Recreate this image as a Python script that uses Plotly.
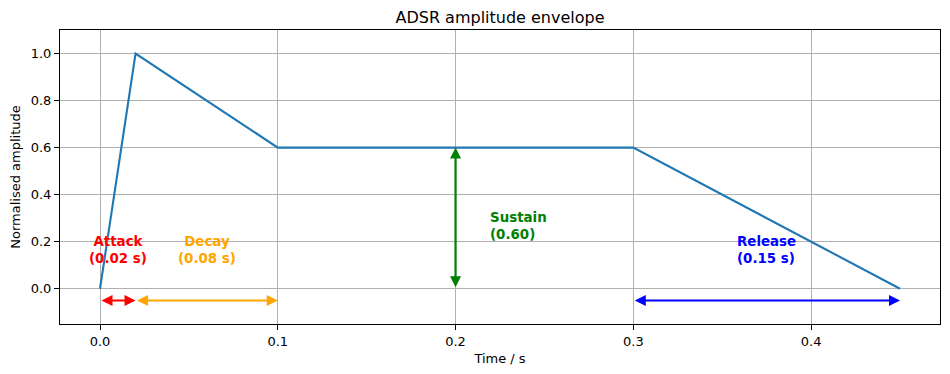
import plotly.graph_objects as go

# Envelope breakpoints
time_s = [0.0, 0.02, 0.10, 0.30, 0.45]
amplitude = [0.0, 1.0, 0.6, 0.6, 0.0]

# Phase annotations
attack_span = [0.0, 0.02]
decay_span = [0.02, 0.10]
release_span = [0.30, 0.45]
sustain_x = 0.2
sustain_level = 0.6
arrow_y = -0.05

x_ticks = [0.0, 0.1, 0.2, 0.3, 0.4]
y_ticks = [0.0, 0.2, 0.4, 0.6, 0.8, 1.0]

FONT = "DejaVu Sans"

fig = go.Figure()
fig.add_trace(go.Scatter(x=time_s, y=amplitude, mode="lines",
                         line=dict(color="#1f77b4", width=2.1), showlegend=False))

def harrow(x0, x1, y, color):
    fig.add_annotation(x=x1, y=y, ax=x0, ay=y, xref="x", yref="y", axref="x", ayref="y",
                       text="", showarrow=True, arrowhead=2, arrowside="end+start",
                       arrowsize=1, arrowwidth=2.2, arrowcolor=color, standoff=0, startstandoff=0)

harrow(attack_span[0], attack_span[1], arrow_y, "red")
harrow(decay_span[0], decay_span[1], arrow_y, "orange")
harrow(release_span[0], release_span[1], arrow_y, "blue")
fig.add_annotation(x=sustain_x, y=sustain_level, ax=sustain_x, ay=0.0, xref="x", yref="y",
                   axref="x", ayref="y", text="", showarrow=True, arrowhead=2,
                   arrowside="end+start", arrowsize=1, arrowwidth=2.2, arrowcolor="green",
                   standoff=0, startstandoff=0)

def label(x, y, txt, color, xanchor):
    fig.add_annotation(x=x, y=y, xref="x", yref="y", text=txt, showarrow=False,
                       xanchor=xanchor, yanchor="middle", align="center" if xanchor == "center" else "left",
                       borderpad=0,
                       font=dict(family=FONT, size=13.4, color=color, weight="bold"))

label((attack_span[0] + attack_span[1]) / 2, 0.165,
      f"Attack<br>({attack_span[1]-attack_span[0]:.2f} s)", "red", "center")
label((decay_span[0] + decay_span[1]) / 2, 0.165,
      f"Decay<br>({decay_span[1]-decay_span[0]:.2f} s)", "orange", "center")
label(0.219, 0.266, f"Sustain<br>({sustain_level:.2f})", "green", "left")
label(0.358, 0.165, f"Release<br>({release_span[1]-release_span[0]:.2f} s)", "blue", "left")

axis_common = dict(showline=True, linecolor="black", linewidth=1, mirror=True,
                   ticks="outside", ticklen=5, tickcolor="black", tickwidth=1,
                   showgrid=True, gridcolor="#b0b0b0", gridwidth=1.1, zeroline=False,
                   automargin=False,
                   tickfont=dict(family=FONT, size=13, color="black"))

fig.update_xaxes(range=[-0.0225, 0.4725], tickvals=x_ticks,
                 ticktext=[f"{v:.1f}" for v in x_ticks],
                 title=dict(text="Time / s", font=dict(family=FONT, size=13, color="black"), standoff=6),
                 **axis_common)
fig.update_yaxes(range=[-0.15, 1.1], tickvals=y_ticks,
                 ticktext=[f"{v:.1f}" for v in y_ticks],
                 title=dict(text="Normalised amplitude", font=dict(family=FONT, size=13, color="black"), standoff=8),
                 **axis_common)

# page body has an 8px margin; compensate so the plot lands where the reference has it
fig.update_layout(
    width=942, height=366,
    margin=dict(l=52, r=10, t=22, b=50),
    paper_bgcolor="white", plot_bgcolor="white",
    title=dict(text="ADSR amplitude envelope", x=0.5, xref="paper", xanchor="center",
               y=1 - 9/366, yanchor="middle",
               font=dict(family=FONT, size=16, color="black")),
)

fig.write_html("out.html")
